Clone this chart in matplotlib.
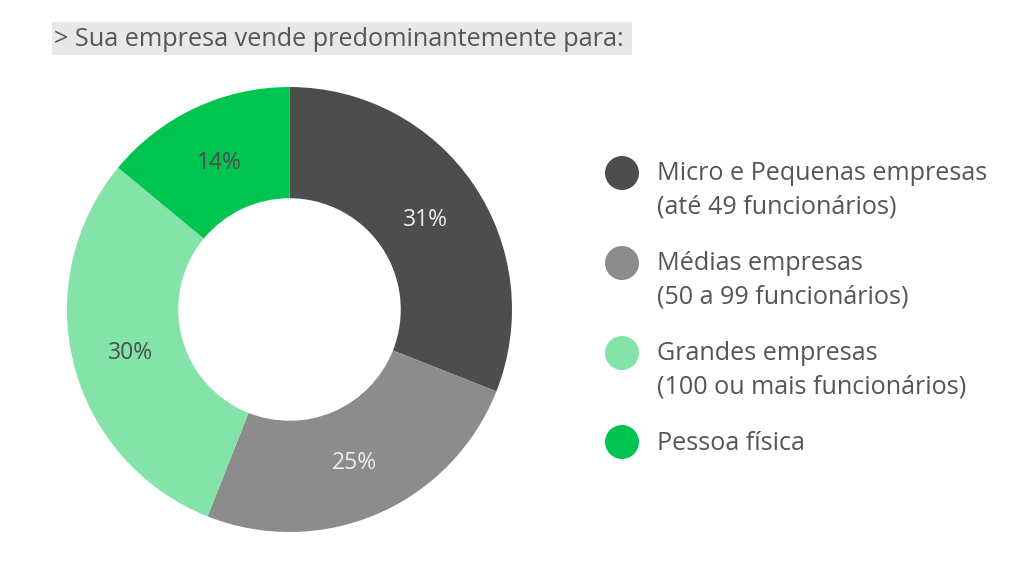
import matplotlib
matplotlib.use("Agg")
import matplotlib.pyplot as plt
from matplotlib.patches import Circle, Rectangle

plt.rcParams['font.family'] = ['Open Sans', 'DejaVu Sans']

title = "> Sua empresa vende predominantemente para:"
categories = ["Micro e Pequenas empresas\n(até 49 funcionários)",
              "Médias empresas\n(50 a 99 funcionários)",
              "Grandes empresas\n(100 ou mais funcionários)",
              "Pessoa física"]
values = [31, 25, 30, 14]
colors = ["#4d4d4d", "#8c8c8c", "#83e3a8", "#00c450"]
label_colors = ["#eeeeee", "#eeeeee", "#4d4d4d", "#4d4d4d"]

W, H = 1024, 563
fig = plt.figure(figsize=(W / 100, H / 100), dpi=100)
fig.patch.set_facecolor("white")

# overlay axes in pixel coordinates
ov = fig.add_axes([0, 0, 1, 1])
ov.set_xlim(0, W)
ov.set_ylim(H, 0)
ov.axis("off")

# title with grey background
ov.add_patch(Rectangle((52, 22), 580, 33, facecolor="#e8e8e8", edgecolor="none"))
ov.text(54, 39, title, fontsize=18.2, color="#555555", va="center", ha="left")

# donut
cx, cy, r = 289.5, 309.5, 222.5
ax = fig.add_axes([(cx - r) / W, (H - cy - r) / H, 2 * r / W, 2 * r / H])
wedges, _, autotexts = ax.pie(values, colors=colors, startangle=90, counterclock=False,
                              radius=1, wedgeprops=dict(width=0.5, edgecolor="none"),
                              autopct=lambda p: f"{p:.0f}%", pctdistance=0.74,
                              textprops=dict(fontsize=16.5))
for t, c in zip(autotexts, label_colors):
    t.set_color(c)
    x, y = t.get_position()
    t.set_position((x, y - 0.012))
ax.set_xlim(-1, 1)
ax.set_ylim(-1, 1)
ax.set_aspect("equal")
ax.axis("off")

# legend
ys = [173, 263, 353, 442]
for y, lab, col in zip(ys, categories, colors):
    ov.add_patch(Circle((622, y), 17, facecolor=col, edgecolor="none"))
    for i, line in enumerate(lab.split("\n")):
        ov.text(657, y + 1 + i * 33, line, fontsize=18.1, color="#555555",
                va="center", ha="left")

fig.savefig("out.png", dpi=100)
